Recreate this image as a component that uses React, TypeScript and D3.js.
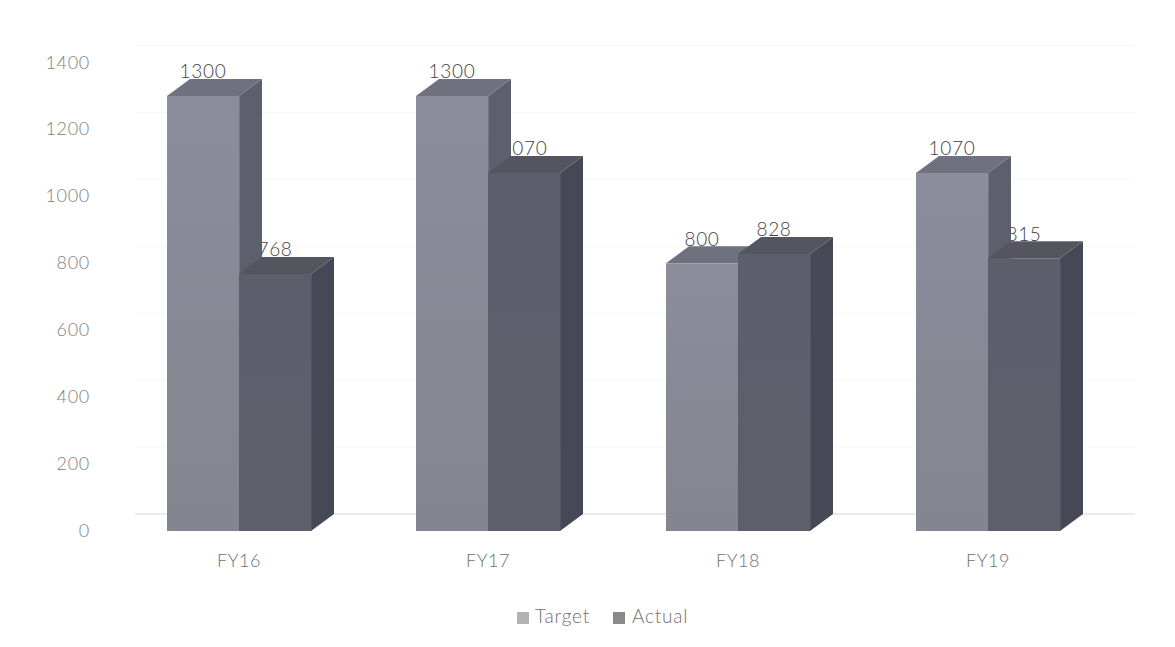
import React from "react";
import * as d3 from "d3";

const categories = ["FY16", "FY17", "FY18", "FY19"];
const targetValues = [1300, 1300, 800, 1070];
const actualValues = [768, 1070, 828, 815];
const yTicks = [0, 200, 400, 600, 800, 1000, 1200, 1400];
const seriesNames = ["Target", "Actual"];

const W = 1175, H = 647;
const FONT = "Lato, Carlito, 'Open Sans', sans-serif";
const depthX = 23, depthY = 17;

const y = d3.scaleLinear().domain([0, 1400]).range([531, 62.5]);
const x0 = d3.scaleBand<string>().domain(categories).range([114, 1112.5]).paddingInner(0.2885).paddingOuter(0.1442);
const barW = 72;
const xLeft = (c: string) => {
  const band = x0(c)!;
  return Math.round(band + x0.bandwidth() / 2 - barW);
};

const palette = {
  Target: { front: "url(#tFront)", top: "#70717e", side: "#5e5f6c" },
  Actual: { front: "url(#aFront)", top: "#54555f", side: "#474855" },
};

function Bar({ x, v, p }: { x: number; v: number; p: typeof palette.Target }) {
  const t = y(v), b = y(0);
  const poly = d3.line();
  return (
    <g>
      <path d={poly([[x + barW, t], [x + barW + depthX, t - depthY], [x + barW + depthX, b - depthY], [x + barW, b]])!} fill={p.side} />
      <path d={poly([[x, t], [x + depthX, t - depthY], [x + barW + depthX, t - depthY], [x + barW, t]])!} fill={p.top} />
      <rect x={x} y={t} width={barW + 0.5} height={b - t} fill={p.front} />
    </g>
  );
}

export default function App() {
  const label = (x: number, v: number) => (
    <text x={x} y={y(v) - 17.5} textAnchor="middle" fontSize={19} letterSpacing={0.7} fill="#3f3f3f" fontFamily={FONT} fontWeight={300}>{v}</text>
  );
  return (
    <svg width={W} height={H} style={{ position: "absolute", left: 0, top: 0, background: "#fff" }}>
      <defs>
        <linearGradient id="tFront" x1="0" y1="0" x2="0" y2="1">
          <stop offset="0" stopColor="#8c8c9b" />
          <stop offset="1" stopColor="#848590" />
        </linearGradient>
        <linearGradient id="aFront" x1="0" y1="0" x2="0" y2="1">
          <stop offset="0" stopColor="#5d5e6c" />
          <stop offset="1" stopColor="#5e5f6a" />
        </linearGradient>
      </defs>
      <g>
        {yTicks.map((t) => (
          <line key={t} x1={135} x2={1135} y1={y(t) - depthY} y2={y(t) - depthY}
            stroke={t === 0 ? "#dde7ee" : "#f7f7f7"} strokeWidth={t === 0 ? 1.5 : 1} />
        ))}
        {yTicks.map((t) => (
          <text key={t} x={90} y={y(t) + 6} textAnchor="end" fontSize={18} letterSpacing={0.7} fill="#808080" fontFamily={FONT} fontWeight={300}>{t}</text>
        ))}
      </g>
      {categories.map((c, i) => {
        const x = xLeft(c);
        return (
          <g key={c}>
            {label(x + barW * 1.5, actualValues[i])}
            <Bar x={x} v={targetValues[i]} p={palette.Target} />
            <Bar x={x + barW} v={actualValues[i]} p={palette.Actual} />
            {label(x + barW / 2, targetValues[i])}
            <text x={x + barW} y={567} textAnchor="middle" fontSize={18} letterSpacing={0.5} fill="#707070" fontFamily={FONT} fontWeight={300}>{c}</text>
          </g>
        );
      })}
      <g fontFamily={FONT} fontSize={19} fill="#707070" fontWeight={300} letterSpacing={0.8}>
        <rect x={517} y={612} width={12} height={12} fill="#b2b2b2" />
        <text x={535} y={623}>{seriesNames[0]}</text>
        <rect x={613} y={612} width={12} height={12} fill="#8a8a8a" />
        <text x={632} y={623}>{seriesNames[1]}</text>
      </g>
    </svg>
  );
}
